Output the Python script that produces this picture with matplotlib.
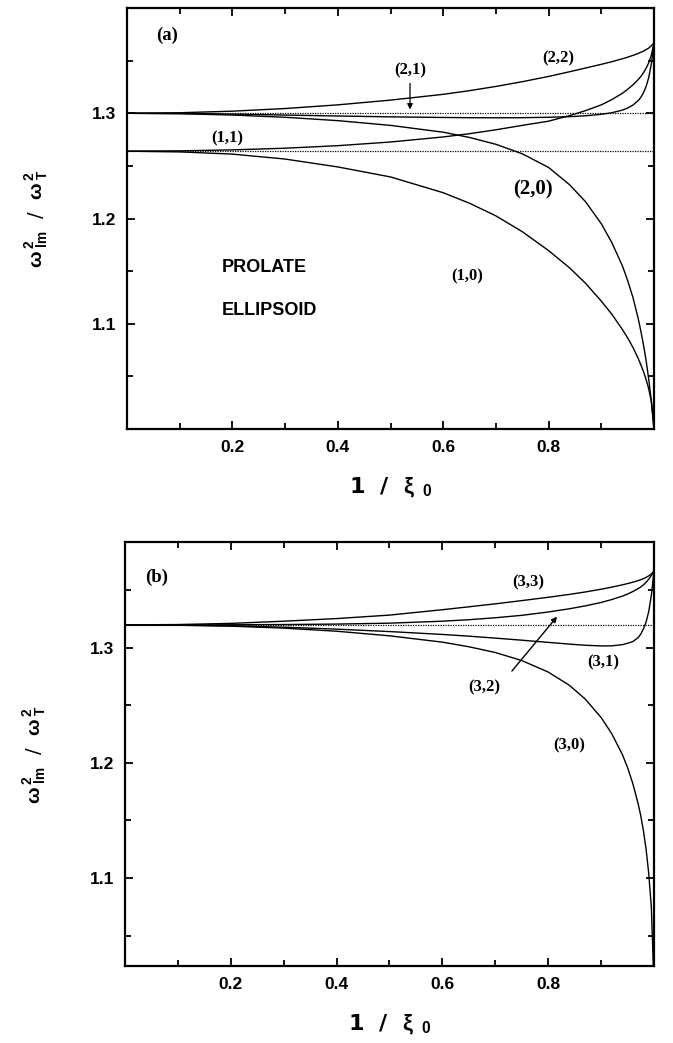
# Prolate ellipsoid surface modes: panels (a) and (b)
import matplotlib
matplotlib.use("Agg")
import matplotlib.pyplot as plt
from matplotlib.font_manager import FontProperties
from matplotlib.ticker import FixedLocator

# x grid (1 / xi_0) shared by all curves
inv_xi = [0.0, 0.1, 0.2, 0.3, 0.4, 0.5, 0.6, 0.65, 0.7, 0.75, 0.8, 0.84, 0.87, 0.9,
          0.92, 0.94, 0.95, 0.96, 0.97, 0.975, 0.98, 0.985, 0.99, 0.995, 1.0]

# panel (a): l = 1, 2
w_22 = [1.300, 1.3005, 1.302, 1.3045, 1.308, 1.3125, 1.318, 1.3215, 1.3255, 1.330, 1.335,
        1.3395, 1.343, 1.3465, 1.349, 1.3518, 1.3533, 1.355, 1.3569, 1.358, 1.359, 1.3605,
        1.362, 1.3642, 1.367]
w_21 = [1.300, 1.2998, 1.2992, 1.2983, 1.2974, 1.2966, 1.296, 1.2958, 1.2957, 1.2958, 1.2962,
        1.2968, 1.2976, 1.299, 1.3005, 1.303, 1.305, 1.3078, 1.312, 1.3152, 1.3195, 1.3255,
        1.334, 1.347, 1.367]
w_11 = [1.264, 1.2643, 1.2652, 1.2668, 1.2692, 1.2727, 1.2775, 1.2806, 1.2843, 1.2885, 1.2925,
        1.2978, 1.3025, 1.308, 1.313, 1.319, 1.3228, 1.327, 1.332, 1.335, 1.3385, 1.3428,
        1.348, 1.3555, 1.367]
w_20 = [1.300, 1.2996, 1.2983, 1.2962, 1.293, 1.2885, 1.282, 1.277, 1.2705, 1.2615, 1.2485,
        1.232, 1.216, 1.195, 1.177, 1.155, 1.141, 1.125, 1.105, 1.093, 1.080, 1.065,
        1.047, 1.026, 1.000]
w_10 = [1.264, 1.2633, 1.2612, 1.2565, 1.249, 1.2395, 1.2245, 1.2145, 1.2025, 1.1875, 1.1695,
        1.153, 1.1385, 1.1215, 1.109, 1.0945, 1.0865, 1.0775, 1.067, 1.061, 1.0545, 1.047,
        1.038, 1.026, 1.000]
sphere_a = [1.300, 1.264]

# panel (b): l = 3
w_33 = [1.320, 1.3203, 1.3213, 1.3232, 1.3255, 1.3285, 1.3332, 1.3357, 1.3383, 1.3411, 1.344,
        1.3465, 1.3486, 1.351, 1.3528, 1.3548, 1.3559, 1.3571, 1.3585, 1.3593, 1.3602, 1.3613,
        1.3626, 1.3643, 1.367]
w_32 = [1.320, 1.320, 1.3201, 1.3203, 1.3207, 1.3215, 1.3232, 1.3245, 1.3262, 1.3283, 1.3312,
        1.334, 1.3365, 1.3395, 1.342, 1.345, 1.3468, 1.349, 1.3515, 1.353, 1.3548, 1.357,
        1.3597, 1.363, 1.367]
w_31 = [1.320, 1.3198, 1.3192, 1.318, 1.3163, 1.3142, 1.3117, 1.3102, 1.3085, 1.3067, 1.3048,
        1.3033, 1.3023, 1.3017, 1.3018, 1.3028, 1.304, 1.3055, 1.309, 1.312, 1.3165, 1.3225,
        1.3315, 1.346, 1.367]
w_30 = [1.320, 1.3197, 1.3189, 1.3172, 1.3145, 1.3105, 1.305, 1.301, 1.296, 1.289, 1.279,
        1.2675, 1.2555, 1.2395, 1.2255, 1.2075, 1.196, 1.182, 1.1645, 1.154, 1.141, 1.125,
        1.104, 1.074, 1.005]
sphere_b = [1.320]

LINE_W = 1.0
TICK_FONT = FontProperties(family="Liberation Sans", weight="bold", size=12.5)
LBL_FONT = {"family": "Liberation Serif", "weight": "bold", "size": 12}

plt.rcParams.update({
    "mathtext.fontset": "custom",
    "mathtext.rm": "Liberation Sans:bold",
    "mathtext.bf": "Liberation Sans:bold",
    "mathtext.it": "Liberation Sans:bold",
    "mathtext.sf": "DejaVu Sans:bold",
})

fig = plt.figure(figsize=(6.73, 10.43), dpi=100)
ax_a = fig.add_axes([0.1887, 0.5887, 0.7831, 0.4036])
ax_b = fig.add_axes([0.1857, 0.0738, 0.7861, 0.4065])

ylab = r"$\omega^{\,2}_{\ \mathbf{lm}}$  /  $\omega^{\,2}_{\ \mathbf{T}}$"
xlab = r"1  /  $\xi_{\ \ \mathbf{0}}$"


def style(ax, ylim):
    ax.set_xlim(0, 1.0)
    ax.set_ylim(*ylim)
    ax.xaxis.set_major_locator(FixedLocator([0.2, 0.4, 0.6, 0.8]))
    ax.xaxis.set_minor_locator(FixedLocator([0.1, 0.3, 0.5, 0.7, 0.9]))
    ax.yaxis.set_major_locator(FixedLocator([1.1, 1.2, 1.3]))
    ax.yaxis.set_minor_locator(FixedLocator([1.05, 1.15, 1.25, 1.35]))
    ax.tick_params(which="both", direction="in", top=True, right=True, width=1.3)
    ax.tick_params(which="major", length=6, pad=8)
    ax.tick_params(which="minor", length=4)
    for sp in ax.spines.values():
        sp.set_linewidth(1.6)
    for t in ax.get_xticklabels() + ax.get_yticklabels():
        t.set_fontproperties(TICK_FONT)
    ax.set_ylabel(ylab, fontsize=14, labelpad=30)
    ax.set_xlabel(xlab, fontsize=16, fontweight="bold", labelpad=15)


# ---- panel (a)
for v in sphere_a:
    ax_a.axhline(v, color="black", lw=0.9, ls=(0, (1, 1)))
for ys in [w_22, w_21, w_11, w_20, w_10]:
    ax_a.plot(inv_xi, ys, color="black", lw=LINE_W)
style(ax_a, (1.0, 1.4))

ax_a.text(0.076, 1.374, "(a)", ha="center", va="center", fontdict={**LBL_FONT, "size": 13.5})
ax_a.text(0.818, 1.352, "(2,2)", ha="center", va="center", fontdict=LBL_FONT)
ax_a.text(0.537, 1.341, "(2,1)", ha="center", va="center", fontdict=LBL_FONT)
ax_a.annotate("", xy=(0.537, 1.301), xytext=(0.537, 1.331),
              arrowprops=dict(arrowstyle="-|>", color="black", lw=0.9, mutation_scale=8))
ax_a.text(0.19, 1.276, "(1,1)", ha="center", va="center", fontdict=LBL_FONT)
ax_a.text(0.77, 1.228, "(2,0)", ha="center", va="center", fontdict={**LBL_FONT, "size": 15})
ax_a.text(0.645, 1.145, "(1,0)", ha="center", va="center", fontdict=LBL_FONT)
ax_a.text(0.18, 1.153, "PROLATE", ha="left", va="center",
          family="Liberation Sans", weight="bold", size=13)
ax_a.text(0.18, 1.113, "ELLIPSOID", ha="left", va="center",
          family="Liberation Sans", weight="bold", size=13)

# ---- panel (b)
for v in sphere_b:
    ax_b.axhline(v, color="black", lw=0.9, ls=(0, (1, 1)))
for ys in [w_33, w_32, w_31, w_30]:
    ax_b.plot(inv_xi, ys, color="black", lw=LINE_W)
style(ax_b, (1.0235, 1.392))

ax_b.text(0.06, 1.361, "(b)", ha="center", va="center", fontdict={**LBL_FONT, "size": 13.5})
ax_b.text(0.763, 1.357, "(3,3)", ha="center", va="center", fontdict=LBL_FONT)
ax_b.text(0.904, 1.287, "(3,1)", ha="center", va="center", fontdict=LBL_FONT)
ax_b.text(0.68, 1.266, "(3,2)", ha="center", va="center", fontdict=LBL_FONT)
ax_b.annotate("", xy=(0.82, 1.329), xytext=(0.728, 1.278),
              arrowprops=dict(arrowstyle="-|>", color="black", lw=1.0, mutation_scale=8))
ax_b.text(0.84, 1.215, "(3,0)", ha="center", va="center", fontdict=LBL_FONT)

fig.savefig("out.png", dpi=100)
